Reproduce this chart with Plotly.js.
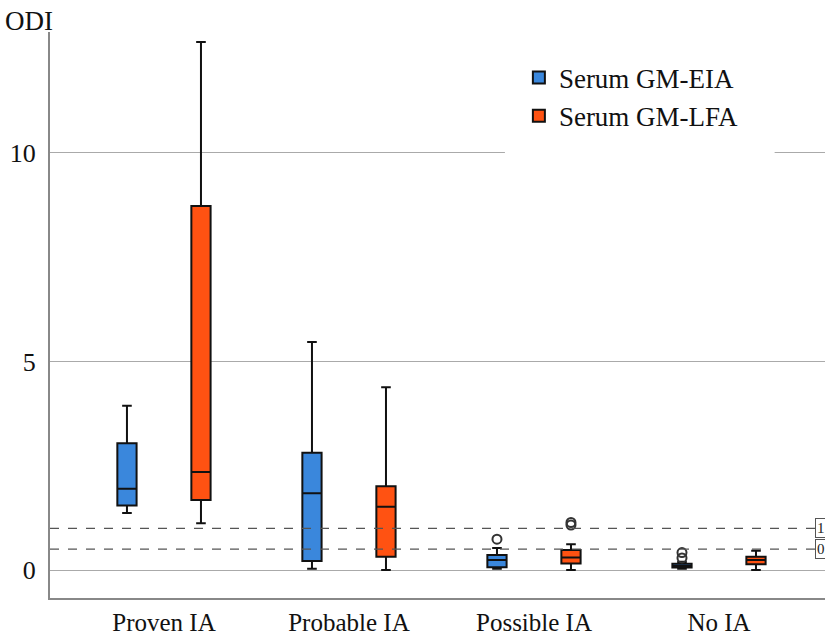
<!DOCTYPE html>
<html>
<head>
<meta charset="utf-8">
<script src="https://cdn.plot.ly/plotly-3.0.1.min.js"></script>
<style>html,body{margin:0;padding:0;background:#fff;}#chart{width:825px;height:636px;}</style>
</head>
<body>
<div id="chart"></div>
<script>
// Categories
const categories = ["Proven IA", "Probable IA", "Possible IA", "No IA"];

// Serum GM-EIA box statistics
const eiaLower  = [1.37, 0.03, 0.03, 0.03];
const eiaQ1     = [1.55, 0.22, 0.07, 0.06];
const eiaMedian = [1.95, 1.84, 0.24, 0.10];
const eiaQ3     = [3.04, 2.81, 0.36, 0.15];
const eiaUpper  = [3.94, 5.47, 0.53, 0.20];
const eiaOutX   = ["Possible IA", "No IA", "No IA"];
const eiaOutY   = [0.74, 0.29, 0.42];

// Serum GM-LFA box statistics
const lfaLower  = [1.12, 0.00, 0.00, 0.00];
const lfaQ1     = [1.68, 0.32, 0.16, 0.14];
const lfaMedian = [2.35, 1.52, 0.30, 0.24];
const lfaQ3     = [8.73, 2.01, 0.48, 0.32];
const lfaUpper  = [12.66, 4.38, 0.62, 0.46];
const lfaOutX   = ["Possible IA", "Possible IA"];
const lfaOutY   = [1.08, 1.14];

// Reference lines
const refLines = [1.0, 0.5];
const refLabels = ["1.0", "0.5"];

const serif = "'Liberation Serif', 'Times New Roman', Times, serif";
const blue = "#3a87dc";
const orange = "#ff5212";

const traces = [
  {type: "box", name: "Serum GM-EIA", x: categories, q1: eiaQ1, median: eiaMedian, q3: eiaQ3,
   lowerfence: eiaLower, upperfence: eiaUpper, boxpoints: false,
   offsetgroup: "a", alignmentgroup: "g",
   fillcolor: blue, line: {color: "#111", width: 2}, whiskerwidth: 0.5},
  {type: "box", name: "Serum GM-LFA", x: categories, q1: lfaQ1, median: lfaMedian, q3: lfaQ3,
   lowerfence: lfaLower, upperfence: lfaUpper, boxpoints: false,
   offsetgroup: "b", alignmentgroup: "g",
   fillcolor: orange, line: {color: "#111", width: 2}, whiskerwidth: 0.5},
  {type: "scatter", mode: "markers", x: eiaOutX, y: eiaOutY, offsetgroup: "a", showlegend: false,
   marker: {symbol: "circle-open", size: 9, color: "#333", line: {width: 2}}, hoverinfo: "y"},
  {type: "scatter", mode: "markers", x: lfaOutX, y: lfaOutY, offsetgroup: "b", showlegend: false,
   marker: {symbol: "circle-open", size: 9, color: "#333", line: {width: 2}}, hoverinfo: "y"}
];

const shapes = refLines.map(v => ({
  type: "line", xref: "paper", x0: 0, x1: 1, yref: "y", y0: v, y1: v,
  line: {color: "#555", width: 1.3, dash: "dash"}, layer: "above"
}));
shapes.push({type: "rect", xref: "paper", yref: "paper", x0: 0.587, x1: 0.935, y0: 0.775, y1: 0.96,
  fillcolor: "#fff", line: {width: 0}, layer: "above"});

const annotations = refLines.map((v, i) => ({
  xref: "paper", x: 0.987, xanchor: "left", yref: "y", y: v, yanchor: "middle",
  text: refLabels[i], showarrow: false, font: {family: serif, size: 15, color: "#222"},
  bordercolor: "#555", borderwidth: 1, borderpad: 1, bgcolor: "#fff"
}));

const layout = {
  width: 825, height: 636,
  margin: {l: 50, r: 0, t: 32, b: 38},
  paper_bgcolor: "#fff", plot_bgcolor: "#fff",
  font: {family: serif, size: 24, color: "#111"},
  title: {text: "ODI", x: 0.006, xanchor: "left", xref: "container", y: 0.968, yanchor: "middle", yref: "container",
          font: {family: serif, size: 27, color: "#111"}},
  boxmode: "group", boxgap: 0.2, boxgroupgap: 0.74,
  scattermode: "group", scattergap: 0.2,
  showlegend: true,
  legend: {x: 0.605, y: 0.962, xanchor: "left", yanchor: "top", bgcolor: "rgba(0,0,0,0)",
           font: {family: serif, size: 27, color: "#111"}, itemwidth: 30, tracegroupgap: 0},
  xaxis: {type: "category", categoryorder: "array", categoryarray: categories,
          range: [-0.616, 3.573], showgrid: false, zeroline: false,
          showline: true, linecolor: "#888", linewidth: 2, ticks: "",
          tickfont: {family: serif, size: 25, color: "#111"}, ticklabelstandoff: 1},
  yaxis: {range: [-0.67, 12.9], tickvals: [0, 5, 10], ticktext: ["0", "5", "10"],
          showgrid: true, gridcolor: "#aaa", gridwidth: 1, zeroline: false,
          showline: true, linecolor: "#888", linewidth: 2, ticks: "",
          tickfont: {family: serif, size: 26, color: "#111"}, ticklabelstandoff: 7},
  shapes: shapes,
  annotations: annotations
};

Plotly.newPlot("chart", traces, layout, {displayModeBar: false, staticPlot: true});
</script>
</body>
</html>
